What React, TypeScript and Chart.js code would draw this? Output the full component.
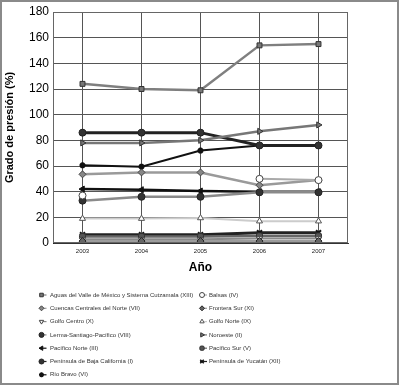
import React, { useEffect, useRef } from 'react';
import { Chart, registerables } from 'chart.js';
import { drawPoint } from 'chart.js/helpers';

Chart.register(...registerables);

const years = ['2003', '2004', '2005', '2006', '2007'];
const yTicks = [0, 20, 40, 60, 80, 100, 120, 140, 160, 180];

const names = [
  'Aguas del Valle de México y Sistema Cutzamala (XIII)',
  'Balsas (IV)',
  'Cuencas Centrales del Norte (VII)',
  'Frontera Sur (XI)',
  'Golfo Centro (X)',
  'Golfo Norte (IX)',
  'Lerma-Santiago-Pacífico (VIII)',
  'Noroeste (II)',
  'Pacífico Norte (III)',
  'Pacífico Sur (V)',
  'Península de Baja California (I)',
  'Península de Yucatán (XII)',
  'Río Bravo (VI)',
];

const aguas = [124, 120, 119, 154, 155];
const balsas = [37, null, null, 50, 49];
const cuencas = [53.5, 55, 55, 45, 49];
const fronteraSur = [1.5, 1.5, 1.5, 1.5, 1.5];
const golfoCentro = [3, 3, 3, 3.5, 3.5];
const golfoNorte = [19, 19, 19.5, 17, 17];
const lerma = [33, 36, 36, 39.5, 39.5];
const noroeste = [78, 78, 80, 87, 92];
const pacificoNorte = [42, 41.5, 40.5, 40, 40];
const pacificoSur = [5, 5, 5, 5.5, 5.5];
const bajaCalifornia = [86, 86, 86, 76, 76];
const yucatan = [6.5, 6.5, 6.5, 8, 8];
const rioBravo = [60.5, 59.5, 72, 76, 76];

const values = [aguas, balsas, cuencas, fronteraSur, golfoCentro, golfoNorte, lerma, noroeste, pacificoNorte, pacificoSur, bajaCalifornia, yucatan, rioBravo];

const styles = [
  { line: '#7f7f7f', w: 2.5, ps: 'rect', rot: 0, bg: '#777777', bd: '#333333', r: 3.5 },
  { line: '#aaaaaa', w: 2, ps: 'circle', rot: 0, bg: '#ffffff', bd: '#444444', r: 3.5 },
  { line: '#9a9a9a', w: 2.5, ps: 'rectRot', rot: 0, bg: '#888888', bd: '#444444', r: 3.5 },
  { line: '#9c9c9c', w: 2, ps: 'rectRot', rot: 0, bg: '#666666', bd: '#222222', r: 3.5 },
  { line: '#8a8a8a', w: 2, ps: 'triangle', rot: 180, bg: '#ffffff', bd: '#444444', r: 3.5 },
  { line: '#cccccc', w: 2, ps: 'triangle', rot: 0, bg: '#ffffff', bd: '#555555', r: 3.5 },
  { line: '#8a8a8a', w: 2.5, ps: 'circle', rot: 0, bg: '#333333', bd: '#222222', r: 3.5 },
  { line: '#777777', w: 2.5, ps: 'triangle', rot: 90, bg: '#777777', bd: '#333333', r: 3.5 },
  { line: '#111111', w: 2.5, ps: 'triangle', rot: -90, bg: '#111111', bd: '#111111', r: 3.5 },
  { line: '#666666', w: 2.5, ps: 'rectRounded', rot: 0, bg: '#555555', bd: '#333333', r: 3.5 },
  { line: '#222222', w: 3, ps: 'circle', rot: 0, bg: '#333333', bd: '#222222', r: 3.5 },
  { line: '#222222', w: 3, ps: 'crossRot', rot: 0, bg: '#111111', bd: '#111111', r: 3.5 },
  { line: '#111111', w: 2, ps: 'star', rot: 0, bg: '#111111', bd: '#111111', r: 3 },
];

const framePlugin = {
  id: 'framePlugin',
  beforeDraw(chart: any) {
    const ctx = chart.ctx;
    ctx.save();
    ctx.fillStyle = '#ffffff';
    ctx.fillRect(0, 0, chart.width, chart.height);
    ctx.restore();
  },
  afterDraw(chart: any) {
    const ctx = chart.ctx;
    const a = chart.chartArea;
    ctx.save();
    ctx.strokeStyle = '#666666';
    ctx.lineWidth = 1;
    ctx.strokeRect(a.left + 0.5, a.top + 0.5, a.right - a.left - 1, a.bottom - a.top - 1);
    ctx.strokeStyle = '#8a8a8a';
    ctx.lineWidth = 2;
    ctx.strokeRect(1, 1, chart.width - 3, chart.height - 3);

    // two-column legend
    ctx.font = '6px "Liberation Sans", Arial, sans-serif';
    ctx.textBaseline = 'middle';
    ctx.textAlign = 'left';
    chart.data.datasets.forEach((ds: any, i: number) => {
      const col = i % 2;
      const row = Math.floor(i / 2);
      const y = 295 + row * 13.3;
      const mx = col === 0 ? 41.5 : 202;
      const tx = col === 0 ? 50 : 209;
      ctx.strokeStyle = ds.borderColor;
      ctx.lineWidth = 1.2;
      ctx.beginPath();
      ctx.moveTo(mx - 2, y);
      ctx.lineTo(mx + 5, y);
      ctx.stroke();
      ctx.fillStyle = ds.pointBackgroundColor;
      ctx.strokeStyle = ds.pointBorderColor;
      ctx.lineWidth = ds.pointStyle === 'crossRot' || ds.pointStyle === 'star' ? 1.5 : 1;
      drawPoint(ctx, { pointStyle: ds.pointStyle, rotation: ds.pointRotation, radius: 2.5, borderWidth: 1 }, mx, y);
      ctx.fillStyle = '#333333';
      ctx.fillText(ds.label, tx, y);
    });
    ctx.restore();
  },
};

export default function App() {
  const ref = useRef<HTMLCanvasElement | null>(null);
  useEffect(() => {
    document.body.style.margin = '0';
    const canvas = ref.current;
    if (!canvas) return;
    const datasets = names.map((n, i) => {
      const s = styles[i];
      return {
        label: n,
        data: values[i],
        borderColor: s.line,
        borderWidth: s.w,
        pointStyle: s.ps,
        pointRotation: s.rot,
        pointBackgroundColor: s.bg,
        pointBorderColor: s.bd,
        pointBorderWidth: s.ps === 'crossRot' || s.ps === 'star' ? 2 : 1,
        pointRadius: s.r,
        tension: 0,
        spanGaps: false,
      };
    });
    const chart = new Chart(canvas, {
      type: 'line',
      data: { labels: years, datasets },
      plugins: [framePlugin],
      options: {
        responsive: false,
        animation: false,
        layout: { padding: { left: 0, right: 52, top: 12, bottom: 107 } },
        plugins: { legend: { display: false }, tooltip: { enabled: false } },
        scales: {
          x: {
            type: 'category',
            offset: true,
            afterFit: (s: any) => { s.height = 36; },
            grid: { color: '#555555', lineWidth: 1, drawTicks: false, offset: false },
            border: { color: '#333333', width: 1 },
            ticks: { color: '#222222', padding: 5, font: { family: '"Liberation Sans", Arial, sans-serif', size: 6 } },
            title: { display: true, text: 'Año', color: '#000000', font: { family: '"Liberation Sans", Arial, sans-serif', size: 12, weight: 'bold' } },
          },
          y: {
            min: 0,
            max: 180,
            afterFit: (s: any) => { s.width = 53; },
            afterBuildTicks: (s: any) => { s.ticks = yTicks.map((v) => ({ value: v })); },
            grid: { color: '#555555', lineWidth: 1, drawTicks: false },
            border: { color: '#222222', width: 1 },
            ticks: { color: '#000000', padding: 4, font: { family: '"Liberation Sans", Arial, sans-serif', size: 12 } },
            title: { display: true, text: 'Grado de presión (%)', color: '#000000', padding: { top: 3, bottom: 2 }, font: { family: '"Liberation Sans", Arial, sans-serif', size: 11, weight: 'bold' } },
          },
        },
      },
    } as any);
    return () => chart.destroy();
  }, []);
  return <canvas ref={ref} width={400} height={386} style={{ display: 'block', width: 400, height: 386 }} />;
}
